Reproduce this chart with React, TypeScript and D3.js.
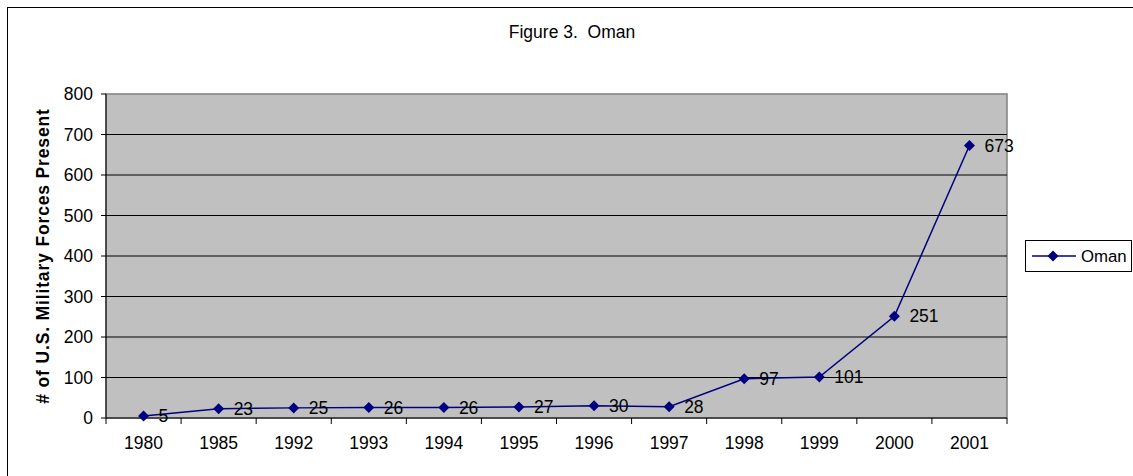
import React from "react";
import * as d3 from "d3";

const categories = ["1980", "1985", "1992", "1993", "1994", "1995", "1996", "1997", "1998", "1999", "2000", "2001"];
const omanValues = [5, 23, 25, 26, 26, 27, 30, 28, 97, 101, 251, 673];
const yTicks = [0, 100, 200, 300, 400, 500, 600, 700, 800];
const seriesName = "Oman";
const chartTitle = "Figure 3.  Oman";
const yTitle = "# of U.S. Military Forces Present";

const W = 1133;
const H = 476;
const plot = { left: 106, right: 1007, top: 94, bottom: 418 };
const FONT = "'Liberation Sans', Arial, sans-serif";
const FS = 17.5;
const NAVY = "#000080";

function diamond(cx: number, cy: number, r: number) {
  return `M${cx},${cy - r}L${cx + r},${cy}L${cx},${cy + r}L${cx - r},${cy}Z`;
}

export default function App() {
  const x = d3.scaleBand<string>().domain(categories).range([plot.left, plot.right]).padding(0);
  const y = d3.scaleLinear().domain([0, 800]).range([plot.bottom, plot.top]);
  const cx = (c: string) => (x(c) as number) + x.bandwidth() / 2;
  const line = d3
    .line<number>()
    .x((_, i) => cx(categories[i]))
    .y((d) => y(d));
  const boundaries = categories.map((c) => x(c) as number).concat([plot.right]);

  return (
    <svg width={W} height={H} style={{ position: "absolute", left: 0, top: 0, background: "#fff" }}>
      <rect x={7.5} y={7.5} width={1300} height={700} fill="#fff" stroke="#000" strokeWidth={1} />
      <text x={572} y={38} textAnchor="middle" fontFamily={FONT} fontSize={FS} style={{ whiteSpace: "pre" }}>
        {chartTitle}
      </text>
      {/* plot area */}
      <rect x={plot.left} y={plot.top} width={plot.right - plot.left} height={plot.bottom - plot.top} fill="#C0C0C0" stroke="#808080" strokeWidth={1.5} />
      {yTicks.slice(1, -1).map((t) => (
        <line key={t} x1={plot.left} x2={plot.right} y1={y(t)} y2={y(t)} stroke="#000" strokeWidth={1} />
      ))}
      {/* axes */}
      <line x1={plot.left} x2={plot.left} y1={plot.top} y2={plot.bottom} stroke="#000" strokeWidth={1} />
      <line x1={plot.left} x2={plot.right} y1={plot.bottom} y2={plot.bottom} stroke="#000" strokeWidth={1} />
      {yTicks.map((t) => (
        <g key={t}>
          <line x1={plot.left - 5} x2={plot.left} y1={y(t)} y2={y(t)} stroke="#000" />
          <text x={93} y={y(t)} dy="0.35em" textAnchor="end" fontFamily={FONT} fontSize={FS}>
            {t}
          </text>
        </g>
      ))}
      {boundaries.map((b, i) => (
        <line key={i} x1={b} x2={b} y1={plot.bottom} y2={plot.bottom + 6} stroke="#000" />
      ))}
      {categories.map((c) => (
        <text key={c} x={cx(c)} y={443} dy="0.35em" textAnchor="middle" fontFamily={FONT} fontSize={FS}>
          {c}
        </text>
      ))}
      <text
        transform={`translate(43,${(plot.top + plot.bottom) / 2}) rotate(-90)`}
        textAnchor="middle"
        dy="0.35em"
        fontFamily={FONT}
        fontWeight="bold"
        fontSize={FS}
        letterSpacing={0.85}
      >
        {yTitle}
      </text>
      {/* series */}
      <path d={line(omanValues) || ""} fill="none" stroke={NAVY} strokeWidth={1.5} />
      {omanValues.map((v, i) => (
        <g key={i}>
          <path d={diamond(cx(categories[i]), y(v), 5.5)} fill={NAVY} />
          <text x={cx(categories[i]) + 15} y={y(v)} dy="0.35em" fontFamily={FONT} fontSize={FS}>
            {v}
          </text>
        </g>
      ))}
      {/* legend */}
      <rect x={1025.5} y={240.5} width={106} height={31} fill="#fff" stroke="#000" strokeWidth={1} />
      <line x1={1032} x2={1076} y1={256} y2={256} stroke={NAVY} strokeWidth={1.5} />
      <path d={diamond(1053, 256, 5.5)} fill={NAVY} />
      <text x={1081} y={256} dy="0.35em" fontFamily={FONT} fontSize={16.8}>
        {seriesName}
      </text>
    </svg>
  );
}
